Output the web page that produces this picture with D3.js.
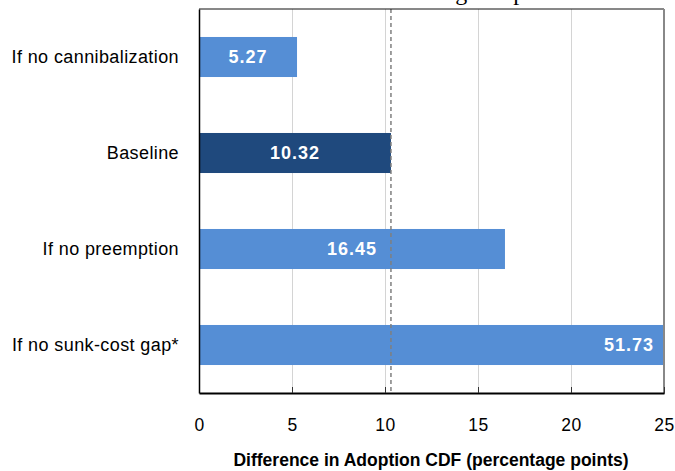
<!DOCTYPE html>
<html lang="en">
<head>
<meta charset="UTF-8">
<title>adoption cdf</title>
<style>
  body { margin: 0; background: #fff; }
  svg { display: block; }
</style>
</head>
<body>
<script src="https://cdn.jsdelivr.net/npm/d3@7/dist/d3.min.js"></script>
<script>
// data
var categories = ["If no cannibalization", "Baseline", "If no preemption", "If no sunk-cost gap*"];
var values = [5.27, 10.32, 16.45, 51.73];
var xTicks = [0, 5, 10, 15, 20, 25];
var baselineValue = 10.32;
var titleText = "Mechanisms Driving Adoption";
var xTitle = "Difference in Adoption CDF (percentage points)";

var width = 675, height = 471;
// plot box (window.top is taken, so plain names with a prefix)
var pLeft = 199, pRight = 664, pTop = 9, pBottom = 393;

var svg = d3.select("body").append("svg")
    .attr("width", width)
    .attr("height", height);

var x = d3.scaleLinear().domain([0, 25]).range([pLeft, pRight]);
var y = d3.scaleBand().domain(categories).range([pTop, pBottom])
    .paddingInner(0.583).paddingOuter(0.2915);

// title, mostly cut off above the frame
svg.append("text")
    .attr("x", 414).attr("y", 0)
    .attr("text-anchor", "middle")
    .attr("font-family", "Liberation Serif, serif")
    .attr("font-size", 24)
    .attr("fill", "#000")
    .text(titleText);

// grid lines
svg.append("g")
    .attr("transform", "translate(0," + pBottom + ")")
    .call(d3.axisBottom(x).tickValues([5, 10, 15, 20]).tickSize(-(pBottom - pTop)).tickFormat(""))
    .call(g => g.select(".domain").remove())
    .call(g => g.selectAll(".tick line").attr("stroke", "#d4d4d4"));

svg.append("clipPath").attr("id", "plot")
  .append("rect").attr("x", pLeft).attr("y", pTop)
    .attr("width", pRight - pLeft).attr("height", pBottom - pTop);

// bars
svg.append("g").attr("clip-path", "url(#plot)")
  .selectAll("rect")
  .data(values)
  .enter()
  .append("rect")
    .attr("x", x(0))
    .attr("y", (d, i) => y(categories[i]))
    .attr("width", d => x(d) - x(0))
    .attr("height", y.bandwidth())
    .attr("fill", (d, i) => categories[i] == "Baseline" ? "#1f497d" : "#558ed5");

// baseline reference
svg.append("line")
    .attr("x1", x(baselineValue)).attr("x2", x(baselineValue))
    .attr("y1", pTop).attr("y2", pBottom)
    .attr("stroke", "#7f7f7f")
    .attr("stroke-width", 1.5)
    .attr("stroke-dasharray", "4,3");

// value labels
svg.append("g")
  .selectAll("text")
  .data(values)
  .enter()
  .append("text")
    .attr("x", d => d > x.domain()[1] ? pRight - 10 : (x(0) + x(d)) / 2)
    .attr("y", (d, i) => y(categories[i]) + y.bandwidth() / 2)
    .attr("dy", "0.36em")
    .attr("text-anchor", d => d > x.domain()[1] ? "end" : "middle")
    .attr("font-family", "Liberation Sans, Arial, sans-serif")
    .attr("font-size", 18)
    .attr("font-weight", "bold")
    .attr("letter-spacing", 1)
    .attr("fill", "#fff")
    .text(d => d.toFixed(2));

// frame
svg.append("line").attr("x1", pLeft).attr("x2", pRight).attr("y1", pTop).attr("y2", pTop).attr("stroke", "#111");
svg.append("line").attr("x1", pRight).attr("x2", pRight).attr("y1", pTop).attr("y2", pBottom + 1)
    .attr("stroke", "#888").attr("stroke-width", 2);

// x axis
svg.append("g")
    .attr("transform", "translate(0," + pBottom + ")")
    .call(d3.axisBottom(x).tickValues(xTicks).tickSize(-6).tickPadding(26).tickSizeOuter(0))
    .call(g => g.select(".domain").attr("stroke", "#000").attr("stroke-width", 2))
    .call(g => g.selectAll(".tick line").attr("stroke", "#333"))
    .call(g => g.selectAll("text")
        .attr("font-family", "Liberation Sans, Arial, sans-serif")
        .attr("font-size", 17.5)
        .attr("letter-spacing", 0.5)
        .attr("fill", "#000"));

// y axis
svg.append("g")
    .attr("transform", "translate(" + pLeft + ",0)")
    .call(d3.axisLeft(y).tickSize(0).tickPadding(20))
    .call(g => g.select(".domain").attr("stroke", "#000").attr("stroke-width", 1.5))
    .call(g => g.selectAll("text")
        .attr("font-family", "Liberation Sans, Arial, sans-serif")
        .attr("font-size", 18)
        .attr("letter-spacing", 0.4)
        .attr("fill", "#000"));

svg.append("text")
    .attr("x", 431)
    .attr("y", 466)
    .attr("text-anchor", "middle")
    .attr("font-family", "Liberation Sans, Arial, sans-serif")
    .attr("font-size", 17.5)
    .attr("font-weight", "bold")
    .attr("fill", "#000")
    .text(xTitle);
</script>
</body>
</html>
